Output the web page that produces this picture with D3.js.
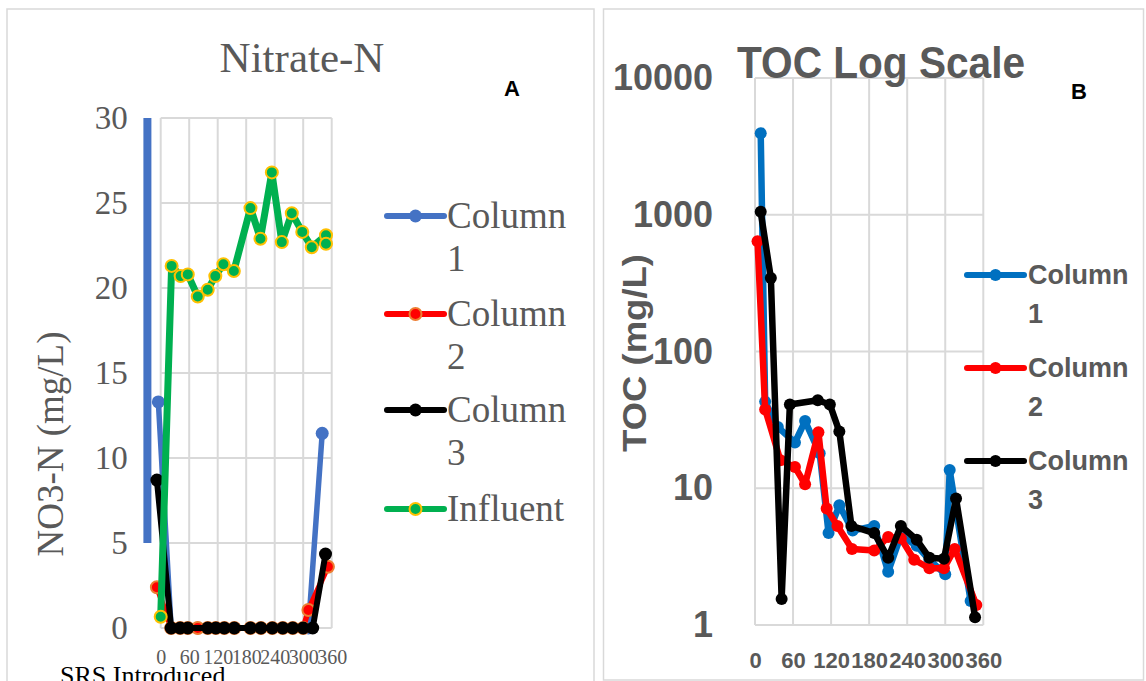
<!DOCTYPE html>
<html>
<head>
<meta charset="utf-8">
<title>Nitrate-N and TOC</title>
<script src="https://cdn.jsdelivr.net/npm/d3@7"></script>
<style>
    body { margin: 0; background: #fff; }
    svg { display: block; }
    .serif { font-family: "Liberation Serif", "Times New Roman", serif; fill: #595959; }
    .sans { font-family: "Liberation Sans", Arial, sans-serif; font-weight: bold; fill: #595959; }
</style>
</head>
<body>
<svg id="chart" width="1146" height="681"></svg>
<script>
//Contains the whole chart inside one function.
(function () {

    //Panel A (Nitrate-N) data, days since start and mg/L.
    var col1DaysA = [-5, 22, 41, 57, 78, 99, 116, 134, 155, 189, 211, 235, 257, 278, 300, 311, 340];
    var col1ValsA = [13.3, 0, 0, 0, 0, 0, 0, 0, 0, 0, 0, 0, 0, 0, 0, 0, 11.45];
    var col2DaysA = [-8, 22, 41, 57, 78, 99, 116, 134, 155, 189, 211, 235, 257, 278, 300, 311, 352];
    var col2ValsA = [2.4, 0, 0, 0, 0, 0, 0, 0, 0, 0, 0, 0, 0, 0, 0, 1.06, 3.6];
    var col3DaysA = [-8, 22, 41, 57, 99, 116, 134, 155, 189, 211, 235, 257, 278, 300, 320, 347];
    var col3ValsA = [8.7, 0, 0, 0, 0, 0, 0, 0, 0, 0, 0, 0, 0, 0, 0, 4.35];
    var inflDaysA = [0, 23, 42, 57, 78, 99, 115, 132, 154, 189, 210, 234, 255, 276, 298, 318, 348, 348];
    var inflValsA = [0.66, 21.3, 20.7, 20.8, 19.5, 19.9, 20.7, 21.4, 21.0, 24.7, 22.9, 26.8, 22.7, 24.4, 23.3, 22.4, 23.1, 22.6];

    //SRS marker bar on panel A (day, from value, to value).
    var srsBar = [-28, 5, 30];

    //Panel B (TOC) data, days since start and mg/L.
    var col1DaysB = [9, 16, 36, 63, 79, 102, 116, 133, 154, 188, 210, 230, 255, 275, 300, 307, 340];
    var col1ValsB = [3950, 43, 28, 21.6, 31, 18, 4.7, 7.5, 4.9, 5.3, 2.45, 4.5, 3.8, 3.0, 2.35, 13.6, 1.5];
    var col2DaysB = [4, 16, 40, 63, 79, 100, 113, 130, 153, 188, 210, 230, 251, 275, 298, 315, 349];
    var col2ValsB = [640, 37.7, 16, 14.3, 10.7, 25.7, 7.1, 5.3, 3.6, 3.5, 4.4, 4.3, 3.0, 2.6, 2.6, 3.6, 1.4];
    var col3DaysB = [9, 25, 42, 55, 99, 118, 133, 152, 188, 210, 230, 255, 275, 298, 317, 347];
    var col3ValsB = [1050, 345, 1.55, 41, 44, 41, 26, 5.3, 4.7, 3.1, 5.3, 4.2, 3.1, 3.05, 8.4, 1.14];

    //Tick values.
    var xTicks = [0, 60, 120, 180, 240, 300, 360];
    var yTicksA = [0, 5, 10, 15, 20, 25, 30];
    var yTicksB = [1, 10, 100, 1000, 10000];

    //Legend labels.
    var legendA = [["Column", "1"], ["Column", "2"], ["Column", "3"], ["Influent"]];
    var legendB = [["Column", "1"], ["Column", "2"], ["Column", "3"]];

    var svg = d3.select("#chart");

    //Panel borders.
    svg.append("rect").attr("x", 7).attr("y", 9).attr("width", 587).attr("height", 700)
        .attr("fill", "none").attr("stroke", "#d9d9d9").attr("stroke-width", 1.5);
    svg.append("rect").attr("x", 603.5).attr("y", 9).attr("width", 540).attr("height", 671)
        .attr("fill", "none").attr("stroke", "#d9d9d9").attr("stroke-width", 1.5);

    drawPanelA();
    drawPanelB();

    //Pairs up days and values for a series.
    function zip(days, vals) {
        return days.map(function (d, i) { return { x: d, y: vals[i] }; });
    }

    //Draws one series with line and round markers.
    function drawSeries(g, data, x, y, s) {
        var line = d3.line()
            .x(function (d) { return x(d.x); })
            .y(function (d) { return y(d.y); });

        g.append("path")
            .datum(data)
            .attr("d", line)
            .attr("fill", "none")
            .attr("stroke", s.color)
            .attr("stroke-width", s.width)
            .attr("stroke-linejoin", "round");

        g.selectAll(null)
            .data(data)
            .enter()
            .append("circle")
            .attr("cx", function (d) { return x(d.x); })
            .attr("cy", function (d) { return y(d.y); })
            .attr("r", s.r)
            .attr("fill", s.color)
            .attr("stroke", s.edge || "none")
            .attr("stroke-width", s.edge ? 2 : 0);
    }

    //Draws the gridlines for a panel.
    function drawGrid(g, x, y, yTicks) {
        g.selectAll(".hgrid")
            .data(yTicks)
            .enter()
            .append("line")
            .attr("x1", x(0)).attr("x2", x(360))
            .attr("y1", function (d) { return y(d); })
            .attr("y2", function (d) { return y(d); })
            .attr("stroke", "#d9d9d9").attr("stroke-width", 2);

        g.selectAll(".vgrid")
            .data(xTicks)
            .enter()
            .append("line")
            .attr("x1", function (d) { return x(d); })
            .attr("x2", function (d) { return x(d); })
            .attr("y1", y(yTicks[0])).attr("y2", y(yTicks[yTicks.length - 1]))
            .attr("stroke", "#d9d9d9").attr("stroke-width", 2);
    }

    //Draws a legend block.
    function drawLegend(g, labels, styles, rows, x0, x1, textX, cls, size, lead) {
        labels.forEach(function (lab, i) {
            var s = styles[i];
            var yy = rows[i];
            g.append("line")
                .attr("x1", x0).attr("x2", x1)
                .attr("y1", yy).attr("y2", yy)
                .attr("stroke", s.color).attr("stroke-width", 6)
                .attr("stroke-linecap", "round");
            g.append("circle")
                .attr("cx", (x0 + x1) / 2).attr("cy", yy)
                .attr("r", s.r)
                .attr("fill", s.color)
                .attr("stroke", s.edge || "none")
                .attr("stroke-width", s.edge ? 2 : 0);
            lab.forEach(function (t, k) {
                g.append("text")
                    .attr("class", cls)
                    .attr("x", textX)
                    .attr("y", yy + size * 0.33 + k * lead)
                    .style("font-size", size + "px")
                    .text(t);
            });
        });
    }

    //Nitrate-N panel.
    function drawPanelA() {
        var g = svg.append("g");

        var x = d3.scaleLinear().domain([0, 360]).range([160.7, 331.7]);
        var y = d3.scaleLinear().domain([0, 30]).range([628, 118]);

        drawGrid(g, x, y, yTicksA);

        var styles = [
            { color: "#4472C4", width: 5.5, r: 6.5 },
            { color: "#FF0000", width: 5.5, r: 6, edge: "#ED7D31" },
            { color: "#000000", width: 6, r: 6.5 },
            { color: "#00B050", width: 7, r: 6, edge: "#FFC000" }
        ];

        //SRS introduced bar.
        g.append("line")
            .attr("x1", x(srsBar[0])).attr("x2", x(srsBar[0]))
            .attr("y1", y(srsBar[1])).attr("y2", y(srsBar[2]))
            .attr("stroke", "#4472C4").attr("stroke-width", 8);

        drawSeries(g, zip(col1DaysA, col1ValsA), x, y, styles[0]);
        drawSeries(g, zip(col2DaysA, col2ValsA), x, y, styles[1]);
        drawSeries(g, zip(col3DaysA, col3ValsA), x, y, styles[2]);
        drawSeries(g, zip(inflDaysA, inflValsA), x, y, styles[3]);

        var xAxis = g.append("g")
            .attr("transform", "translate(0," + y(0) + ")")
            .call(d3.axisBottom(x).tickValues(xTicks).tickSize(0).tickPadding(22));
        xAxis.select(".domain").remove();
        xAxis.selectAll("text").attr("class", "serif").style("font-size", "20px");

        var yAxis = g.append("g")
            .attr("transform", "translate(" + x(0) + ",0)")
            .call(d3.axisLeft(y).tickValues(yTicksA).tickSize(0).tickPadding(33));
        yAxis.select(".domain").remove();
        yAxis.selectAll("text").attr("class", "serif").style("font-size", "33px");

        g.append("text").attr("class", "serif")
            .attr("x", 302).attr("y", 72)
            .attr("text-anchor", "middle")
            .style("font-size", "43px")
            .text("Nitrate-N");

        g.append("text").attr("class", "serif")
            .attr("transform", "translate(63,444) rotate(-90)")
            .attr("text-anchor", "middle")
            .style("font-size", "37px")
            .text("NO3-N (mg/L)");

        g.append("text").attr("class", "sans")
            .attr("x", 512).attr("y", 96)
            .attr("text-anchor", "middle")
            .style("font-size", "22px").style("fill", "#000")
            .text("A");

        g.append("text").attr("class", "serif")
            .attr("x", 60).attr("y", 684)
            .style("font-size", "26px").style("fill", "#000")
            .text("SRS Introduced");

        drawLegend(g, legendA, styles, [216, 314, 410, 509], 387, 444, 447, "serif", 37, 43);
    }

    //TOC log scale panel.
    function drawPanelB() {
        var g = svg.append("g");

        var x = d3.scaleLinear().domain([0, 360]).range([755, 983.3]);
        var y = d3.scaleLog().domain([1, 10000]).range([625, 78]);

        drawGrid(g, x, y, yTicksB);

        var styles = [
            { color: "#0070C0", width: 6.5, r: 6 },
            { color: "#FF0000", width: 6.5, r: 6 },
            { color: "#000000", width: 6.5, r: 6 }
        ];

        drawSeries(g, zip(col1DaysB, col1ValsB), x, y, styles[0]);
        drawSeries(g, zip(col2DaysB, col2ValsB), x, y, styles[1]);
        drawSeries(g, zip(col3DaysB, col3ValsB), x, y, styles[2]);

        var xAxis = g.append("g")
            .attr("transform", "translate(0," + y(1) + ")")
            .call(d3.axisBottom(x).tickValues(xTicks).tickSize(0).tickPadding(27));
        xAxis.select(".domain").remove();
        xAxis.selectAll("text").attr("class", "sans").style("font-size", "22px");

        var yAxis = g.append("g")
            .attr("transform", "translate(" + x(0) + ",0)")
            .call(d3.axisLeft(y).tickValues(yTicksB).tickFormat(d3.format("d")).tickSize(0).tickPadding(42));
        yAxis.select(".domain").remove();
        yAxis.selectAll("text").attr("class", "sans").style("font-size", "36px");

        g.append("text").attr("class", "sans")
            .attr("x", 881).attr("y", 78)
            .attr("text-anchor", "middle")
            .attr("textLength", 288).attr("lengthAdjust", "spacingAndGlyphs")
            .style("font-size", "44px")
            .text("TOC Log Scale");

        g.append("text").attr("class", "sans")
            .attr("transform", "translate(646,353) rotate(-90)")
            .attr("text-anchor", "middle")
            .attr("textLength", 198).attr("lengthAdjust", "spacingAndGlyphs")
            .style("font-size", "34px")
            .text("TOC (mg/L)");

        g.append("text").attr("class", "sans")
            .attr("x", 1079).attr("y", 99)
            .attr("text-anchor", "middle")
            .style("font-size", "22px").style("fill", "#000")
            .text("B");

        drawLegend(g, legendB, styles, [275, 368, 461], 967, 1024, 1028, "sans", 27, 39);
    }

})();
</script>
</body>
</html>
